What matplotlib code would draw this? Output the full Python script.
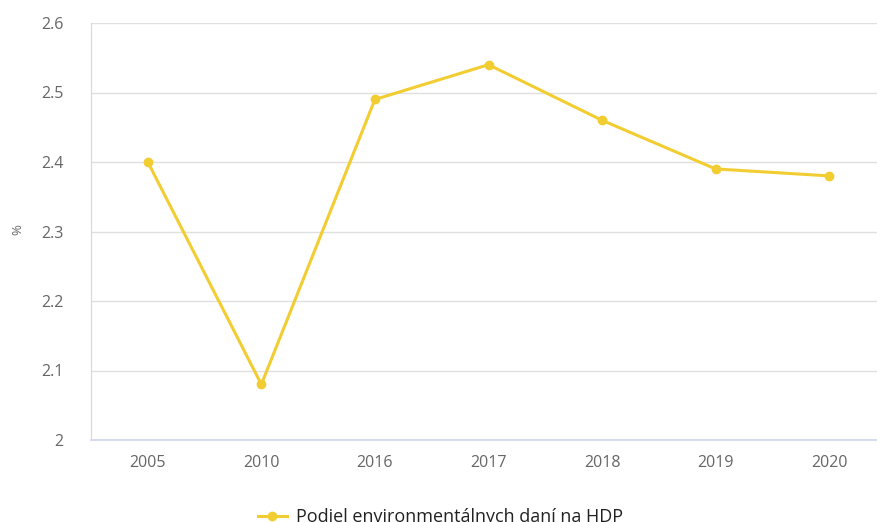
import matplotlib.pyplot as plt

years = ["2005", "2010", "2016", "2017", "2018", "2019", "2020"]
values = [2.40, 2.08, 2.49, 2.54, 2.46, 2.39, 2.38]
yticks = [2.0, 2.1, 2.2, 2.3, 2.4, 2.5, 2.6]
ytick_labels = ["2", "2.1", "2.2", "2.3", "2.4", "2.5", "2.6"]
series_name = "Podiel environmentálnych daní na HDP"

plt.rcParams['font.family'] = ['Open Sans', 'DejaVu Sans']

W, H = 877, 522
fig = plt.figure(figsize=(W / 100, H / 100), dpi=100)
ax = fig.add_axes([91 / W, (H - 440) / H, 795 / W, (440 - 23) / H])

x = list(range(len(years)))
color = "#f2cd32"
line, = ax.plot(x, values, color=color, linewidth=2.2, marker="o", markersize=6,
                label=series_name, clip_on=False, zorder=3)

ax.set_xlim(-0.5, len(years) - 0.5)
ax.set_ylim(2.0, 2.6)
ax.set_yticks(yticks)
ax.set_yticklabels(ytick_labels)
ax.set_xticks(x)
ax.set_xticklabels(years)
ax.grid(axis="y", color="#e0e0e0", linewidth=1)
ax.set_axisbelow(True)

for s in ["top", "right"]:
    ax.spines[s].set_visible(False)
ax.spines["left"].set_color("#d8d8d8")
ax.spines["bottom"].set_color("#ccd6eb")
ax.spines["bottom"].set_linewidth(1.2)

ax.tick_params(axis="both", length=0, labelsize=11.5, labelcolor="#666666")
ax.tick_params(axis="y", pad=20)
ax.tick_params(axis="x", pad=11)

fig.text(18 / W, 1 - 230 / H, "%", rotation=90, ha="center", va="center",
         fontsize=9.5, color="#666666")

fig.legend(handles=[line], loc="center", bbox_to_anchor=(0.502, 1 - 517 / H),
           frameon=False, fontsize=13, handlelength=1.6, handletextpad=0.5,
           labelcolor="#222222")

fig.savefig("out.png", dpi=100)
